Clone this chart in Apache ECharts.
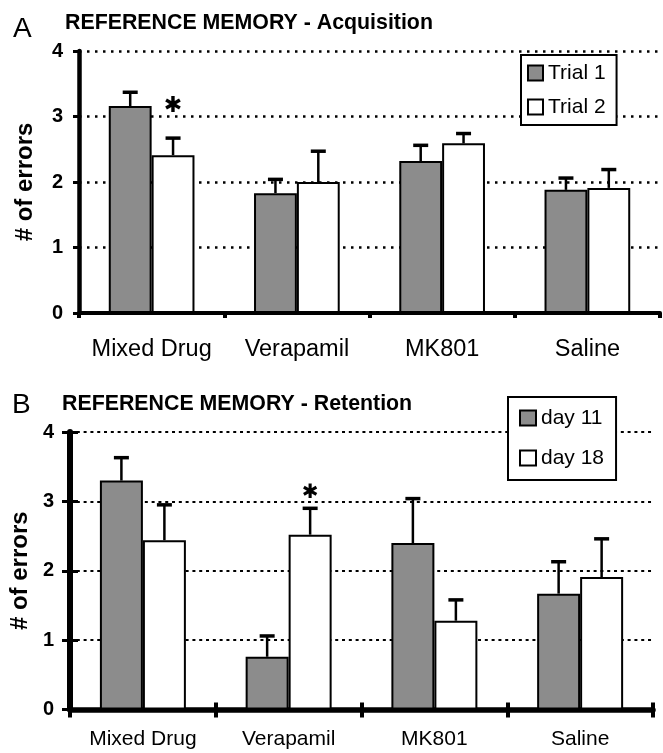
<!DOCTYPE html>
<html>
<head>
<meta charset="utf-8">
<script src="https://cdn.jsdelivr.net/npm/echarts@6/dist/echarts.min.js"></script>
<style>
html,body{margin:0;padding:0;background:#fff;}
#chart{width:663px;height:753px;}
</style>
</head>
<body>
<div id="chart"></div>
<script>
// ---- data ----
const categories = ['Mixed Drug', 'Verapamil', 'MK801', 'Saline'];
const yTickValues = [0, 1, 2, 3, 4];

// Panel A: acquisition
const acqTrial1 = [3.16, 1.83, 2.32, 1.88];
const acqTrial1Sem = [0.21, 0.21, 0.24, 0.18];
const acqTrial2 = [2.41, 2.00, 2.59, 1.91];
const acqTrial2Sem = [0.26, 0.47, 0.15, 0.28];
const acqSignif = [[0, 3.16]];        // [category index, y] above Trial 2 bar

// Panel B: retention
const retDay11 = [3.30, 0.76, 2.40, 1.67];
const retDay11Sem = [0.33, 0.30, 0.64, 0.46];
const retDay18 = [2.44, 2.52, 1.28, 1.91];
const retDay18Sem = [0.51, 0.38, 0.30, 0.55];
const retSignif = [[1, 3.12]];        // above day 18 bar

// ---- styling ----
const FONT = 'Liberation Sans, Arial, sans-serif';
const GRAY = '#8c8c8c';
const BAR_FRAC = 0.295;

const chart = echarts.init(document.getElementById('chart'), null, {renderer: 'canvas'});

function barSeries(name, data, color, xi, yi) {
  return {
    name: name, type: 'bar', xAxisIndex: xi, yAxisIndex: yi,
    data: data, barWidth: (BAR_FRAC * 100) + '%', barGap: '0%',
    itemStyle: {color: color, borderColor: '#000', borderWidth: 2},
    silent: true, z: 2
  };
}

function errorSeries(means, sems, side, xi, yi) {
  return {
    type: 'custom', xAxisIndex: xi, yAxisIndex: yi, z: 3, silent: true,
    renderItem: function (params, api) {
      const c = api.value(0), m = api.value(1), t = api.value(2);
      const base = api.coord([c, m]);
      const top = api.coord([c, t]);
      const band = api.size([1, 0])[0];
      const x = base[0] + side * band * BAR_FRAC / 2;
      const cap = 7.5;
      return {
        type: 'group', children: [
          {type: 'line', shape: {x1: x, y1: base[1], x2: x, y2: top[1]}, style: {stroke: '#000', lineWidth: 2.5}},
          {type: 'line', shape: {x1: x - cap, y1: top[1], x2: x + cap, y2: top[1]}, style: {stroke: '#000', lineWidth: 3.5}}
        ]
      };
    },
    data: means.map(function (m, i) { return [i, m, m + sems[i]]; })
  };
}

function signifSeries(points, side, xi, yi, fontSize) {
  return {
    type: 'custom', xAxisIndex: xi, yAxisIndex: yi, z: 4, silent: true,
    renderItem: function (params, api) {
      const p = api.coord([api.value(0), api.value(1)]);
      const band = api.size([1, 0])[0];
      return {
        type: 'text',
        style: {
          x: p[0] + side * band * BAR_FRAC / 2, y: p[1],
          text: '\u2731', fill: '#000',
          font: 'bold ' + fontSize + 'px DejaVu Sans',
          textAlign: 'center', textVerticalAlign: 'middle'
        }
      };
    },
    data: points
  };
}

function xAxisDef(gi, lineW, tickLen, tickW, labelSize, margin, inside, showLine) {
  return {
    type: 'category', gridIndex: gi, data: categories, position: 'bottom',
    axisLine: {show: showLine, lineStyle: {color: '#000', width: lineW}},
    axisTick: {show: true, inside: inside, length: tickLen, lineStyle: {color: '#000', width: tickW}},
    axisLabel: {show: !inside, interval: 0, color: '#000', fontSize: labelSize, fontFamily: FONT, margin: margin},
    splitLine: {show: false}
  };
}

function yAxisDef(gi, lineW, tickLen, tickW, dash, gridW, nameGap, inside, main) {
  return {
    type: 'value', gridIndex: gi, position: 'left',
    min: yTickValues[0], max: yTickValues[yTickValues.length - 1], interval: 1,
    name: main ? '# of errors' : '', nameLocation: 'middle', nameGap: nameGap,
    nameTextStyle: {color: '#000', fontSize: 24, fontWeight: 'bold', fontFamily: FONT},
    axisLine: {show: main, lineStyle: {color: '#000', width: lineW}},
    axisTick: {show: true, inside: inside, length: tickLen, lineStyle: {color: '#000', width: tickW}},
    axisLabel: {show: main, color: '#000', fontSize: 20, fontWeight: 'bold', fontFamily: FONT, margin: 16},
    splitLine: {show: main, lineStyle: {color: '#000', width: gridW, type: dash}}
  };
}

const option = {
  backgroundColor: '#fff',
  animation: false,
  grid: [
    {left: 79, top: 51, width: 581, height: 262},
    {left: 58, top: 432, width: 595, height: 277.5}
  ],
  xAxis: [
    xAxisDef(0, 4, 5, 4, 23.5, 25, false, true),
    xAxisDef(1, 5.5, 8, 4, 21, 19, false, true),
    xAxisDef(1, 0, 7, 4, 21, 19, true, false)
  ],
  yAxis: [
    yAxisDef(0, 4.5, 6, 3, [2.5, 5.5], 2.5, 42, false, true),
    yAxisDef(1, 6, 8, 3, [3, 3.8], 2.2, 19, false, true),
    yAxisDef(1, 0, 8, 3, 'solid', 0, 0, true, false)
  ],
  legend: [
    {
      data: ['Trial 1', 'Trial 2'], orient: 'vertical', left: 521, top: 55,
      backgroundColor: '#fff', borderColor: '#000', borderWidth: 2,
      padding: [7, 11, 7, 6], itemGap: 12, itemWidth: 15, itemHeight: 15, itemTextGap: 3,
      icon: 'rect', selectedMode: false,
      textStyle: {fontSize: 21, lineHeight: 22, color: '#000', fontFamily: FONT}
    },
    {
      data: ['day 11', 'day 18'], orient: 'vertical', left: 508, top: 397,
      backgroundColor: '#fff', borderColor: '#000', borderWidth: 2,
      padding: [10, 12, 11, 11], itemGap: 18, itemWidth: 16, itemHeight: 15, itemTextGap: 3,
      icon: 'rect', selectedMode: false,
      textStyle: {fontSize: 21, lineHeight: 22, color: '#000', fontFamily: FONT}
    }
  ],
  graphic: [
    {type: 'text', x: 13, y: 29, style: {text: 'A', font: '28px ' + FONT, fill: '#000', textVerticalAlign: 'middle'}},
    {type: 'text', x: 65, y: 23, scaleX: 0.97, style: {text: 'REFERENCE MEMORY - Acquisition', font: 'bold 22px ' + FONT, fill: '#000', textVerticalAlign: 'middle'}},
    {type: 'text', x: 12, y: 405, style: {text: 'B', font: '28px ' + FONT, fill: '#000', textVerticalAlign: 'middle'}},
    {type: 'text', x: 62, y: 404, scaleX: 0.97, style: {text: 'REFERENCE MEMORY - Retention', font: 'bold 22px ' + FONT, fill: '#000', textVerticalAlign: 'middle'}}
  ],
  series: [
    barSeries('Trial 1', acqTrial1, GRAY, 0, 0),
    barSeries('Trial 2', acqTrial2, '#fff', 0, 0),
    errorSeries(acqTrial1, acqTrial1Sem, -1, 0, 0),
    errorSeries(acqTrial2, acqTrial2Sem, 1, 0, 0),
    signifSeries(acqSignif, 1, 0, 0, 22),
    barSeries('day 11', retDay11, GRAY, 1, 1),
    barSeries('day 18', retDay18, '#fff', 1, 1),
    errorSeries(retDay11, retDay11Sem, -1, 1, 1),
    errorSeries(retDay18, retDay18Sem, 1, 1, 1),
    signifSeries(retSignif, 1, 1, 1, 20)
  ]
};
chart.setOption(option);
</script>
</body>
</html>
